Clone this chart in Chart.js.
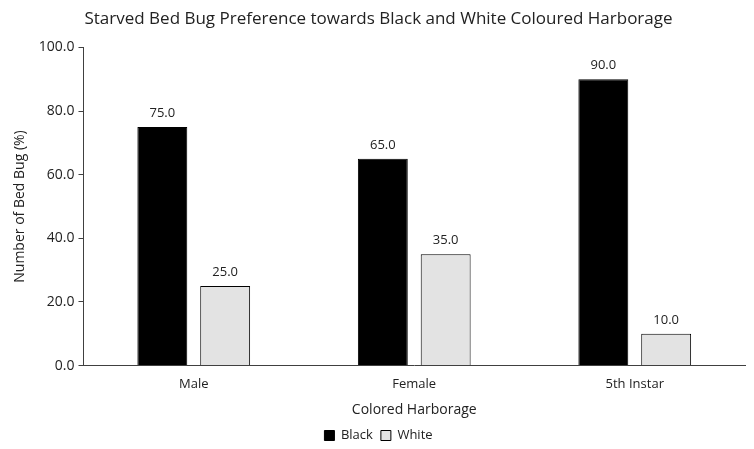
<!DOCTYPE html>
<html lang="en">
<head>
    <meta charset="UTF-8">
    <script src="https://cdn.jsdelivr.net/npm/chart.js"></script>
    <title>Starved Bed Bug Preference</title>
    <style>
        body { margin: 0; background: #fff; }
        #wrap { width: 754px; height: 449px; }
    </style>
</head>
<body>
    <div id="wrap">
      <canvas id="myChart"></canvas>
    </div>
    <script>
        const categories = ['Male', 'Female', '5th Instar']
        const blackValues = [75, 65, 90]
        const whiteValues = [25, 35, 10]
        const yTicks = [0, 20, 40, 60, 80, 100]

        const fontName = "'Open Sans', 'Noto Sans', sans-serif"
        Chart.defaults.font.family = fontName
        Chart.defaults.color = '#222'

        // draws the value above every bar
        const valueLabels = {
            id: 'valueLabels',
            afterDatasetsDraw(chart) {
                const ctx = chart.ctx
                ctx.save()
                ctx.font = '13px ' + fontName
                ctx.fillStyle = '#222'
                ctx.textAlign = 'center'
                ctx.textBaseline = 'bottom'
                chart.data.datasets.forEach((ds, i) => {
                    chart.getDatasetMeta(i).data.forEach((bar, j) => {
                        ctx.fillText(ds.data[j].toFixed(1), bar.x, bar.y - 7)
                    })
                })
                ctx.restore()
            }
        }

        const ctx = document.getElementById('myChart');
        new Chart(ctx, {
            type: 'bar',
            data: {
                labels: categories,
                datasets: [{
                    label: 'Black',
                    data: blackValues,
                    backgroundColor: '#000000',
                    borderColor: '#000000',
                    borderWidth: 1,
                    barPercentage: 0.794,
                    categoryPercentage: 0.57
                }, {
                    label: 'White',
                    data: whiteValues,
                    backgroundColor: '#e3e3e3',
                    borderColor: '#000000',
                    borderWidth: 1,
                    barPercentage: 0.794,
                    categoryPercentage: 0.57
                }]
            },
            options: {
                responsive: true,
                maintainAspectRatio: false,
                animation: false,
                layout: { padding: { left: 12, right: 9, top: 9, bottom: -3 } },
                plugins: {
                    title: {
                        display: true,
                        text: 'Starved Bed Bug Preference towards Black and White Coloured Harborage',
                        font: { size: 17, weight: 'normal' },
                        color: '#222',
                        padding: { top: 0, bottom: 18 }
                    },
                    legend: {
                        position: 'bottom',
                        labels: {
                            boxWidth: 10,
                            boxHeight: 10,
                            padding: 8,
                            font: { size: 13 },
                            color: '#222'
                        }
                    },
                    tooltip: { enabled: false }
                },
                scales: {
                    x: {
                        grid: { display: false },
                        border: { color: '#404040', width: 1 },
                        ticks: { font: { size: 13 }, color: '#222', padding: 3 },
                        title: {
                            display: true,
                            text: 'Colored Harborage',
                            font: { size: 14 },
                            color: '#222',
                            padding: { top: 6, bottom: 3 }
                        }
                    },
                    y: {
                        min: 0,
                        max: 100,
                        afterBuildTicks(axis) {
                            axis.ticks = yTicks.map(v => ({ value: v }))
                        },
                        grid: {
                            drawOnChartArea: false,
                            drawTicks: true,
                            tickLength: 5,
                            color: '#404040'
                        },
                        border: { color: '#404040', width: 1 },
                        ticks: {
                            font: { size: 14 },
                            color: '#222',
                            padding: 4,
                            callback: v => Number(v).toFixed(1)
                        },
                        title: {
                            display: true,
                            text: 'Number of Bed Bug (%)',
                            font: { size: 14 },
                            color: '#222',
                            padding: { top: 0, bottom: 6 }
                        }
                    }
                }
            },
            plugins: [valueLabels]
        });
    </script>
 </body>

</html>
